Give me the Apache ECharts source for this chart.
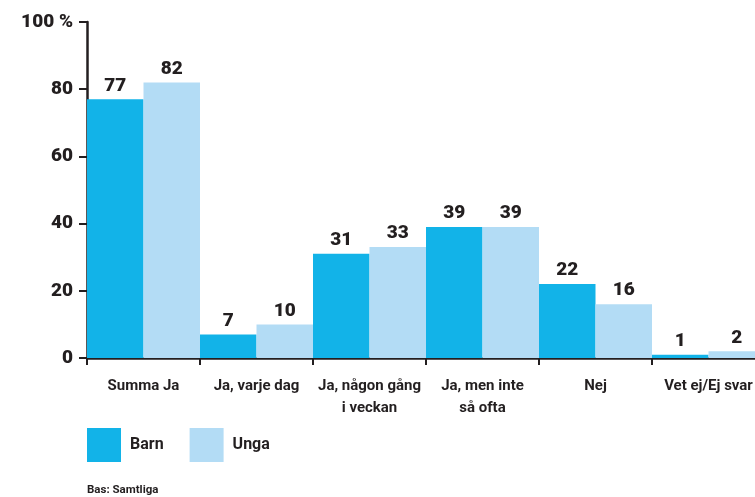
<!DOCTYPE html>
<html>
<head>
<meta charset="utf-8">
<script src="https://cdn.jsdelivr.net/npm/echarts@6/dist/echarts.min.js"></script>
<style>
  html, body { margin: 0; padding: 0; background: #fff; }
  #chart { width: 755px; height: 497px; }
</style>
</head>
<body>
<div id="chart"></div>
<script>
const categories = ["Summa Ja", "Ja, varje dag", "Ja, någon gång\ni veckan", "Ja, men inte\nså ofta", "Nej", "Vet ej/Ej svar"]
const barn = [77, 7, 31, 39, 22, 1]
const unga = [82, 10, 33, 39, 16, 2]
const yTicks = [0, 20, 40, 60, 80, 100]

const textColor = "#231f20"
const font = "Roboto"

const chart = echarts.init(document.getElementById("chart"))

// value label style shared by both series
const valueLabel = {
  show: true,
  position: "top",
  distance: 4,
  fontFamily: font,
  fontWeight: 900,
  fontSize: 19,
  color: textColor
}

chart.setOption({
  animation: false,
  backgroundColor: "#fff",
  textStyle: { fontFamily: font, color: textColor },
  // plot runs past the right edge, like the reference
  grid: { left: 87, width: 678, top: 22, bottom: 139, containLabel: false, outerBoundsMode: "none" },
  legend: {
    left: 87,
    top: 428,
    padding: 0,
    itemWidth: 34,
    itemHeight: 34,
    itemGap: 26,
    icon: "rect",
    textStyle: { fontFamily: font, fontWeight: "bold", fontSize: 16, color: textColor, padding: [0, 0, 0, 4] },
    data: ["Barn", "Unga"]
  },
  graphic: [{
    type: "text",
    left: 87,
    top: 484,
    style: { text: "Bas: Samtliga", font: "bold 11.5px Roboto", fill: textColor }
  }],
  xAxis: {
    type: "category",
    data: categories,
    axisLine: { lineStyle: { color: textColor, width: 2.5 } },
    axisTick: { show: true, length: 7, lineStyle: { color: textColor, width: 2 } },
    axisLabel: {
      interval: 0,
      margin: 17,
      fontFamily: font,
      fontWeight: "bold",
      fontSize: 15,
      lineHeight: 22,
      color: textColor
    }
  },
  yAxis: {
    type: "value",
    min: 0,
    max: 100,
    interval: 20,
    splitLine: { show: false },
    axisLine: { show: true, lineStyle: { color: textColor, width: 2.5 } },
    axisTick: { show: true, length: 8, lineStyle: { color: textColor, width: 2 } },
    axisLabel: {
      margin: 14,
      fontFamily: font,
      fontWeight: 900,
      fontSize: 19,
      color: textColor,
      formatter: v => yTicks.includes(v) ? (v === 100 ? "100 %" : String(v)) : ""
    }
  },
  series: [
    {
      name: "Barn",
      type: "bar",
      data: barn,
      barGap: "0%",
      barCategoryGap: "0%",
      itemStyle: { color: "#12b3e8" },
      label: valueLabel
    },
    {
      name: "Unga",
      type: "bar",
      data: unga,
      barGap: "0%",
      barCategoryGap: "0%",
      itemStyle: { color: "#b3dcf5" },
      label: valueLabel
    }
  ]
})
</script>
</body>
</html>
